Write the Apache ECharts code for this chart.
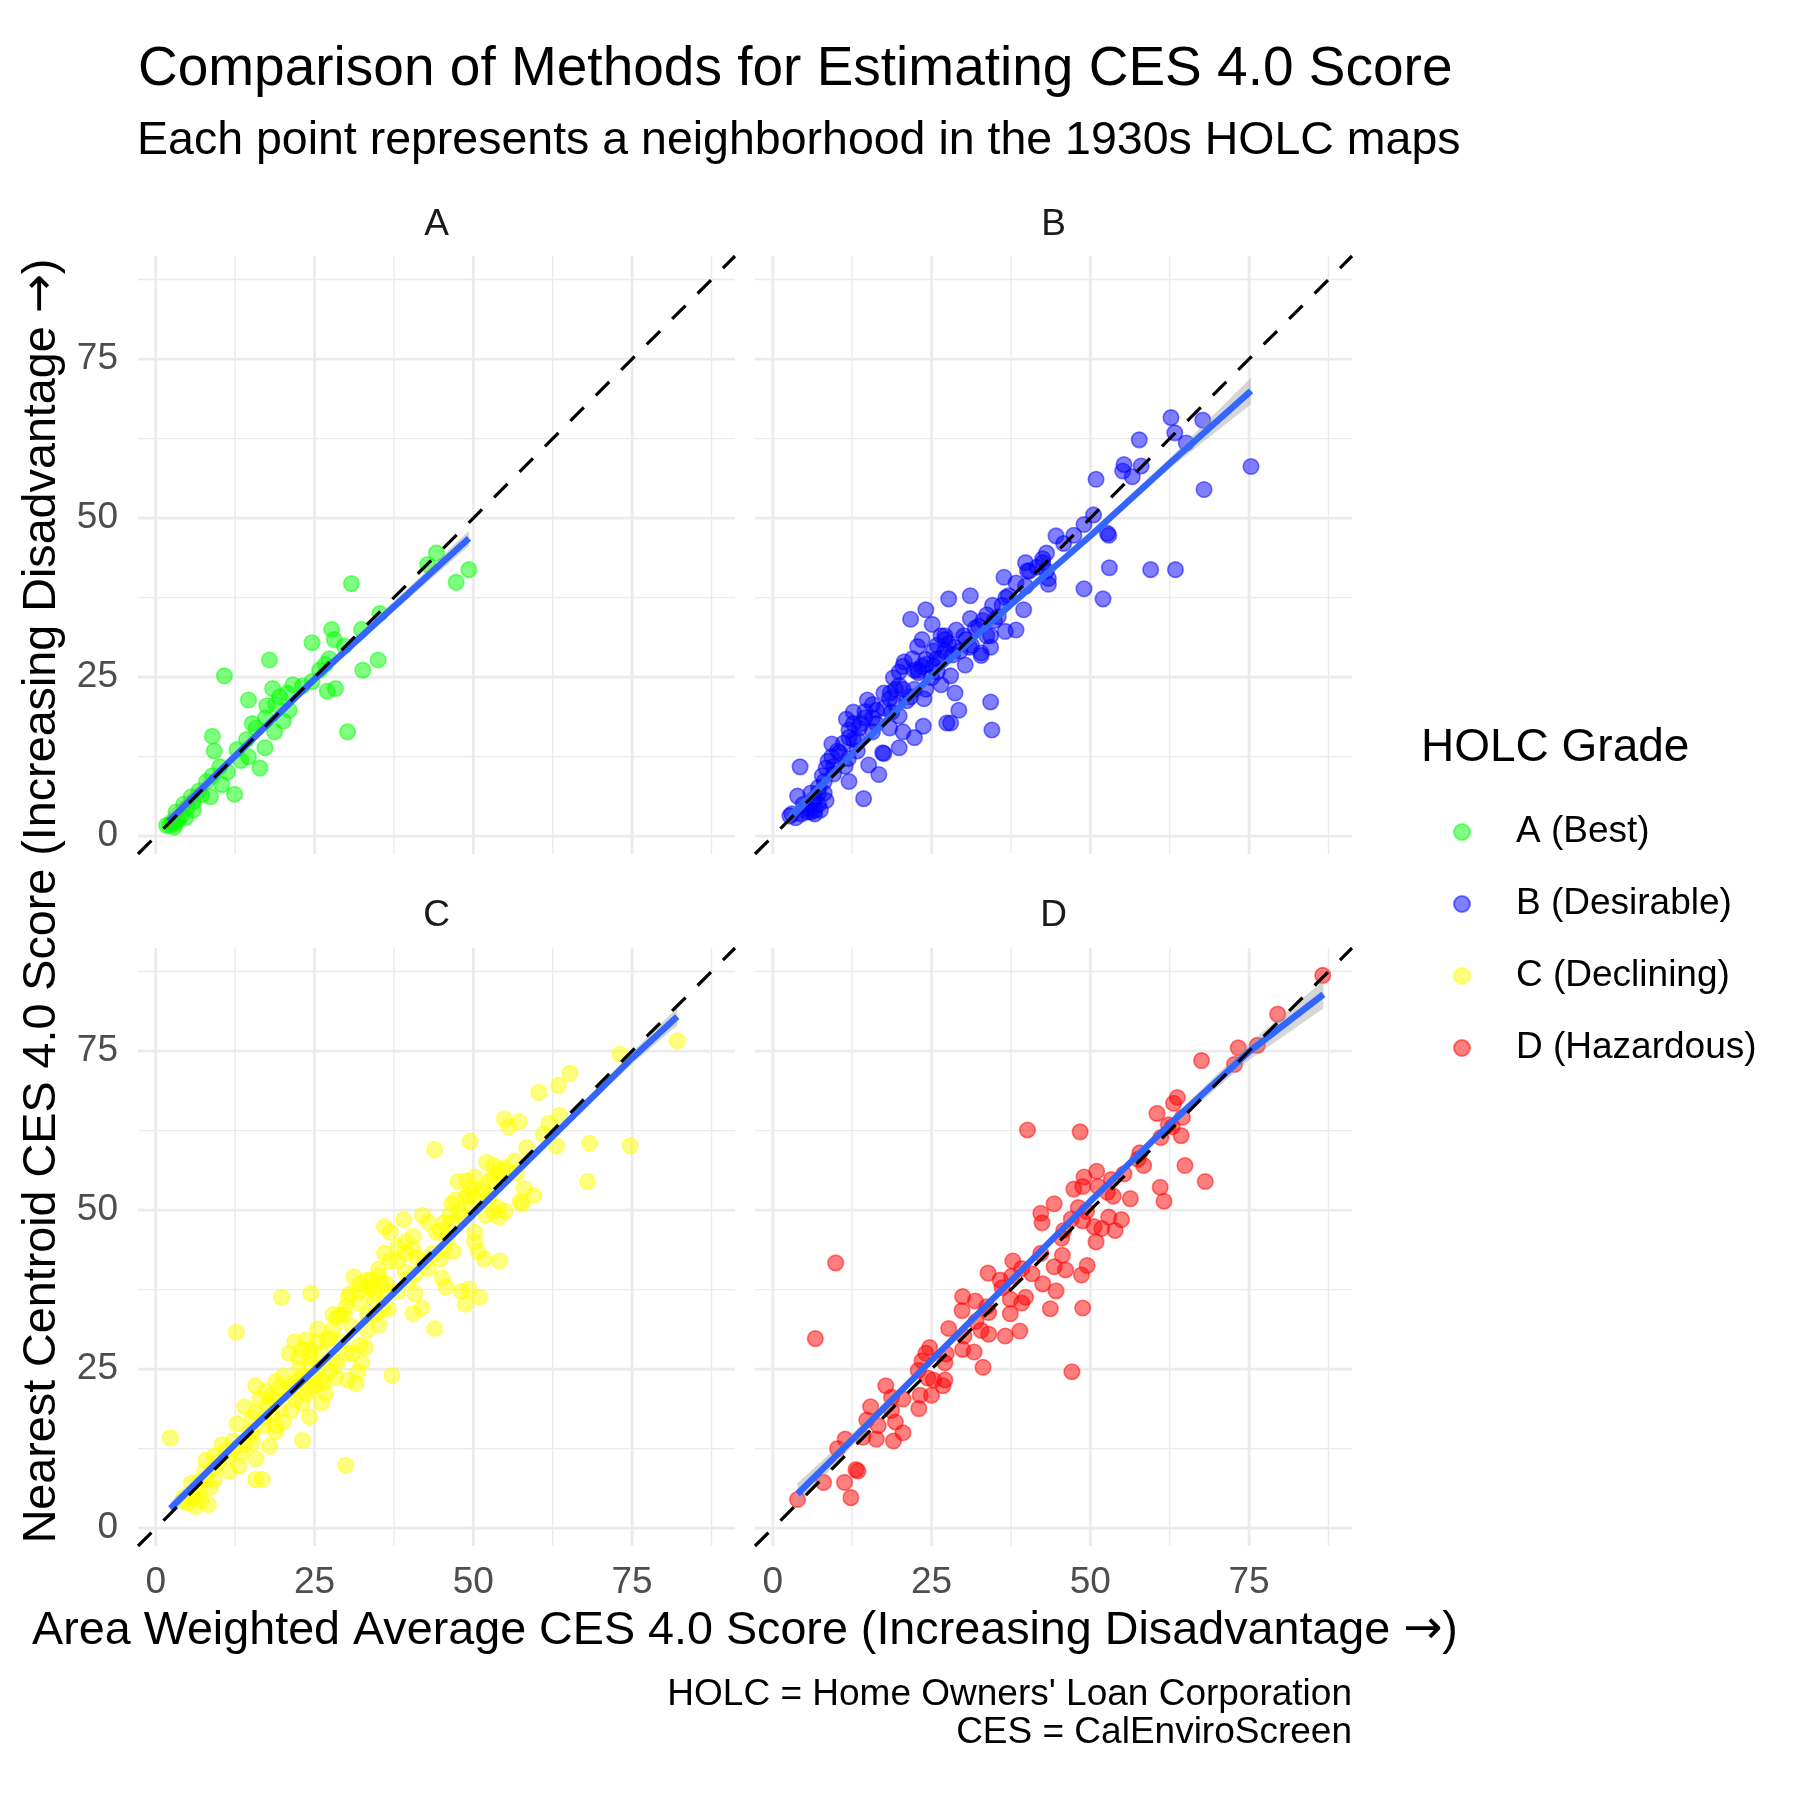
<!DOCTYPE html>
<html><head><meta charset="utf-8">
<script src="https://cdn.jsdelivr.net/npm/echarts@6/dist/echarts.min.js"></script>
<style>html,body{margin:0;padding:0;background:#fff}#c{width:1800px;height:1800px}</style>
</head><body><div id="c"></div>
<script>
const gradeNames = ['A (Best)', 'B (Desirable)', 'C (Declining)', 'D (Hazardous)'];
const panelLabels = ['A', 'B', 'C', 'D'];
const gradeColors = ['0,255,0', '0,0,255', '255,255,0', '255,0,0'];
const tickValues = [0, 25, 50, 75];
const minorValues = [12.5, 37.5, 62.5, 87.5];
const axisMin = -2.8, axisMax = 91.2;

const titleText = 'Comparison of Methods for Estimating CES 4.0 Score';
const subtitleText = 'Each point represents a neighborhood in the 1930s HOLC maps';
const xTitleMain = 'Area Weighted Average CES 4.0 Score (Increasing Disadvantage ';
const yTitleMain = 'Nearest Centroid CES 4.0 Score (Increasing Disadvantage ';
const arrowText = '\u2192';
const captionLines = ["HOLC = Home Owners' Loan Corporation", 'CES = CalEnviroScreen'];
const legendTitle = 'HOLC Grade';

const pointsA = [[44.2,44.5],[42.8,42.7],[49.3,41.9],[47.3,39.9],[30.8,39.7],[35.3,35.0],[32.4,32.5],[27.7,32.5],[28.1,30.9],[24.6,30.4],[29.7,29.9],[17.9,27.7],[35.0,27.7],[32.6,26.1],[27.3,27.9],[26.7,27.0],[10.8,25.2],[24.6,24.3],[27.0,22.8],[28.3,23.2],[18.4,23.2],[21.6,23.8],[14.6,21.4],[19.5,21.9],[20.7,22.5],[17.5,20.5],[18.9,20.7],[21.0,19.8],[20.1,18.1],[18.7,16.4],[30.2,16.4],[17.3,18.6],[15.8,17.0],[8.9,15.7],[9.2,13.4],[12.8,13.6],[17.2,13.9],[14.6,12.5],[13.4,11.9],[16.4,10.7],[10.1,10.9],[11.3,10.1],[8.9,9.5],[8.0,8.6],[10.4,8.1],[12.4,6.6],[8.6,6.2],[6.8,7.1],[5.6,6.2],[5.9,4.1],[4.4,5.0],[4.7,2.9],[3.2,3.8],[2.6,2.3],[1.7,1.7],[2.9,1.4],[15.2,17.7],[14.3,15.2],[23.1,23.6],[25.8,26.1],[3.5,2.5],[4.0,3.2],[6.0,5.5],[7.2,6.5],[5.0,4.5],[2.2,1.8],[3.0,2.0]];

const pointsB = [[62.7,65.8],[67.7,65.4],[63.3,63.4],[65.1,61.8],[57.7,62.3],[55.3,58.4],[55.1,57.4],[56.6,56.5],[58.0,58.2],[50.9,56.1],[75.3,58.1],[67.9,54.5],[50.5,50.5],[49.0,49.0],[52.7,47.6],[52.9,47.3],[44.6,47.2],[47.4,47.3],[45.8,46.0],[43.1,44.5],[39.8,43.0],[42.5,43.0],[40.4,41.7],[43.4,39.6],[43.4,40.5],[53.0,42.2],[59.5,41.9],[63.4,41.9],[49.0,38.9],[52.0,37.3],[36.4,40.7],[38.3,39.8],[37.1,37.8],[34.6,36.3],[27.7,37.3],[31.1,37.8],[24.1,35.6],[21.7,34.1],[25.1,33.3],[31.1,34.2],[33.7,34.8],[39.5,35.6],[36.1,36.3],[38.3,32.4],[36.6,32.2],[28.9,32.4],[32.4,33.0],[34.3,31.5],[27.1,31.5],[27.7,30.3],[25.9,30.0],[30.4,30.9],[22.8,29.8],[32.8,28.8],[32.8,28.4],[24.1,27.8],[26.5,28.0],[30.3,26.9],[20.7,27.4],[19.9,25.8],[22.9,25.7],[25.9,25.8],[28.0,25.2],[26.5,23.8],[28.7,22.5],[24.1,23.1],[34.3,21.1],[29.3,19.8],[34.5,16.7],[27.4,17.8],[28.0,17.8],[23.7,17.3],[22.3,15.5],[19.9,18.9],[19.9,13.9],[17.5,13.0],[17.3,13.1],[14.9,21.4],[14.5,19.6],[18.5,22.5],[19.3,20.7],[21.7,21.9],[23.8,21.6],[11.6,18.4],[15.1,11.2],[16.7,9.7],[15.7,18.6],[12.0,16.7],[12.7,15.2],[15.7,16.4],[9.3,14.5],[10.5,13.1],[11.9,12.2],[13.3,13.4],[8.7,11.8],[11.4,11.0],[7.8,9.5],[12.0,8.6],[4.3,10.9],[7.2,7.7],[9.6,9.8],[14.3,5.9],[3.9,6.3],[6.0,6.8],[8.4,5.6],[4.8,5.0],[3.0,3.5],[5.4,3.8],[6.6,4.1],[2.7,3.2],[7.2,5.0],[6.6,5.9],[6.0,3.8],[8.1,6.8],[9.6,11.0],[13.3,15.2],[17.5,20.1],[18.7,19.5],[18.4,17.0],[20.5,16.4],[21.1,21.3],[22.3,23.1],[25.0,24.9],[25.3,26.7],[28.3,28.5],[29.5,29.1],[31.0,29.7],[33.7,31.5],[34.9,33.9],[35.5,34.5],[39.8,39.3],[41.6,42.3],[12.7,19.5],[13.9,17.7],[16.3,17.7],[23.5,26.7],[22.3,26.1],[25.3,29.1],[27.1,30.9],[19.9,23.7],[20.5,23.1],
  [17.5,22.5],[18.4,21.6],[19.3,23.1],[14.5,18.6],[13.6,17.0],[12.0,15.5],[11.1,14.6],[10.2,13.4],[9.3,12.5],[8.4,10.7],[8.1,8.6],[7.2,6.8],[6.3,5.6],[5.4,4.4],[4.5,3.5],[3.6,2.9],[6.6,3.5],[7.5,4.1],[22.9,26.1],[24.1,27.0],[25.9,27.9],[27.1,29.1],[28.6,29.7],[30.1,31.5],[31.9,32.7],[33.1,33.9],[36.7,37.5],[34.3,29.7],[23.5,30.9],[20.5,26.7],[22.0,27.9],[19.0,24.9],[15.7,20.7],[16.3,19.8],[12.7,17.7],[31.3,30.0],[26.5,31.5],[42.5,43.6],[43.1,41.7],[40.1,41.7]];

const pointsC = [[82.1,76.6],[73.1,74.5],[65.2,71.5],[63.4,69.6],[60.3,68.5],[54.9,64.3],[57.2,63.9],[55.6,63.1],[61.9,63.6],[63.6,64.9],[61.0,61.9],[49.5,60.8],[43.9,59.5],[68.3,60.5],[74.7,60.1],[63.1,60.1],[58.4,59.8],[68.0,54.5],[52.1,57.5],[56.5,57.7],[56.8,55.8],[55.0,56.7],[53.8,55.8],[52.6,54.6],[58.0,53.4],[59.5,52.3],[47.6,54.5],[50.2,55.2],[49.6,53.4],[49.0,52.2],[57.4,51.3],[57.7,51.0],[53.8,50.4],[52.0,49.2],[54.1,48.9],[46.6,51.0],[46.6,48.0],[50.2,46.5],[50.2,45.0],[50.8,43.5],[51.7,42.3],[54.1,42.0],[36.0,47.4],[39.0,48.5],[42.0,49.2],[42.9,48.1],[44.2,46.5],[36.9,46.5],[40.5,45.9],[39.3,45.0],[38.1,44.1],[45.4,43.8],[46.9,43.5],[36.0,43.2],[41.1,42.6],[44.8,42.3],[42.9,40.8],[40.8,39.9],[45.1,39.3],[45.7,37.9],[48.1,37.2],[48.7,35.2],[49.3,37.6],[51.0,36.3],[31.2,39.5],[35.1,40.7],[33.9,39.0],[33.3,37.8],[35.7,38.4],[36.6,37.2],[40.8,36.9],[40.5,33.7],[41.9,34.6],[43.9,31.4],[19.8,36.3],[24.4,36.9],[30.3,36.3],[30.0,34.8],[32.1,35.4],[34.5,36.0],[36.6,34.5],[33.3,33.6],[28.5,33.0],[35.1,32.0],[33.3,31.1],[25.5,31.3],[27.9,31.4],[30.9,31.7],[27.0,29.6],[29.1,29.3],[32.1,28.7],[33.0,28.4],[30.0,27.5],[32.4,26.0],[31.8,24.5],[37.2,24.0],[28.3,23.6],[30.3,23.3],[31.5,22.7],[23.7,29.6],[21.9,29.3],[21.0,27.5],[23.1,28.1],[24.3,27.2],[26.1,27.5],[27.9,26.3],[25.5,25.1],[20.1,23.9],[22.5,23.3],[18.9,23.0],[26.4,23.0],[17.3,21.5],[15.7,22.4],[20.7,21.2],[23.7,21.2],[26.7,21.2],[26.1,19.7],[23.1,19.7],[19.5,18.8],[17.6,19.4],[14.0,19.1],[15.8,18.2],[24.2,17.5],[12.7,30.8],[12.8,16.4],[20.1,16.7],[18.9,15.2],[17.0,16.1],[14.9,15.2],[23.1,13.8],[17.9,12.9],[15.2,13.4],[10.4,13.1],[13.4,11.9],[15.8,10.9],[13.1,9.8],[11.6,11.3],[9.8,10.4],[7.9,10.7],[7.7,8.9],[9.2,7.7],[6.8,7.3],[5.6,7.1],[2.3,14.2],[29.9,9.9],[15.7,7.7],[16.8,7.7],[4.4,4.9],[6.2,3.4],[8.3,3.7],[7.1,4.3],[5.0,4.0],[6.2,5.2],[8.6,6.4],[11.6,8.9],[18.9,16.1],[21.3,18.5],[21.9,20.3],[24.9,22.3],[27.3,24.5],[28.5,25.7],[30.9,27.5],[34.5,33.6],[35.7,34.5],[38.1,37.2],[39.9,39.0],[42.3,42.0],[43.6,43.2],[45.9,45.6],[48.3,49.2],[49.6,50.4],[51.4,52.8],[52.6,52.2],[53.2,55.2],[47.2,51.6],[39.3,43.2],[36.9,42.0],[32.1,37.2],[29.7,33.6],[24.3,25.7],[22.5,25.1],[21.3,22.7],[18.3,20.3],[15.2,17.3],[12.2,13.7],[9.2,11.3],
  [54.4,56.4],[53.2,57.0],[51.4,53.4],[50.2,51.9],[53.2,49.8],[55.0,49.8],[47.8,49.8],[46.3,49.2],[49.0,54.6],[33.9,37.8],[35.1,39.6],[33.3,39.0],[32.1,38.4],[30.6,36.9],[34.5,36.9],[36.3,38.4],[29.1,33.6],[27.9,33.6],[27.3,29.9],[25.5,29.3],[24.3,28.1],[22.5,26.9],[23.1,23.9],[24.9,23.9],[25.8,22.7],[24.3,21.8],[21.9,22.1],[19.5,22.1],[18.3,20.9],[16.4,20.3],[17.0,17.3],[18.3,17.9],[15.2,14.9],[14.0,13.1],[12.2,12.5],[11.0,12.2],[9.2,9.5],[8.0,7.7],[6.8,5.8],[5.6,4.6],[4.4,4.3],[45.4,48.0],[49.0,52.2],[40.5,43.8],[38.1,42.0],[44.8,46.8],[39.3,40.2]];

const pointsD = [[86.6,86.9],[79.5,80.8],[73.3,75.5],[76.3,75.9],[72.7,72.9],[67.5,73.5],[63.7,67.7],[63.1,66.8],[60.5,65.2],[64.5,64.6],[62.3,63.4],[62.9,63.1],[64.3,61.7],[61.1,61.4],[40.1,62.6],[48.4,62.3],[57.8,59.0],[58.4,57.0],[57.5,58.0],[64.9,57.0],[68.1,54.5],[61.0,53.6],[61.6,51.4],[55.3,55.7],[51.0,56.1],[49.0,55.2],[53.3,54.8],[51.2,53.7],[47.4,53.3],[48.8,53.7],[52.7,52.8],[53.6,52.2],[56.3,51.8],[44.3,51.0],[42.2,49.5],[42.4,48.0],[48.1,50.4],[49.4,49.8],[48.8,48.3],[47.0,48.6],[52.9,48.9],[54.9,48.5],[50.6,47.4],[51.8,47.1],[53.9,46.8],[45.8,46.8],[45.5,45.6],[50.9,45.0],[42.2,43.2],[45.6,42.9],[44.3,41.1],[46.1,40.6],[49.5,41.3],[48.6,39.8],[44.6,37.3],[43.7,34.5],[48.8,34.6],[47.1,24.6],[37.8,42.0],[39.2,40.8],[33.9,40.1],[35.8,39.0],[37.6,39.6],[40.8,40.0],[42.5,38.4],[36.1,37.8],[39.8,36.3],[37.4,36.0],[39.2,35.4],[29.9,36.4],[31.9,35.7],[33.7,34.8],[29.8,34.2],[34.0,33.9],[37.4,33.7],[32.0,32.5],[27.7,31.4],[30.1,30.2],[32.8,31.1],[34.0,30.5],[36.6,30.2],[38.9,31.0],[29.9,28.1],[31.7,27.7],[33.1,25.3],[24.7,28.4],[24.1,27.5],[27.3,27.4],[23.5,26.3],[27.1,26.0],[22.9,24.8],[24.4,23.6],[25.3,23.3],[27.1,23.3],[26.8,22.4],[25.0,20.9],[23.2,20.9],[23.0,18.8],[17.8,22.4],[18.7,20.6],[20.5,20.3],[15.4,19.1],[18.7,18.5],[14.8,17.0],[19.3,16.7],[16.6,16.1],[20.5,15.0],[16.3,14.0],[19.0,13.7],[14.2,14.3],[11.4,14.0],[10.2,12.5],[13.1,9.2],[13.4,9.0],[8.0,7.2],[11.3,7.2],[12.3,4.8],[3.9,4.5],[6.7,29.8],[9.9,41.7]];

const smoothA = [[2.0,2.3],[12.5,12.6],[25,24.7],[37.5,36.1],[49.3,46.8]];
const smoothB = [[2.4,2.6],[12.5,12.9],[25,25.2],[37.5,36.4],[50,47.2],[62.5,58.6],[75.3,70.0]];
const smoothC = [[2.3,3.1],[12.5,13.2],[25,24.9],[37.5,37.0],[50,49.3],[62.5,61.6],[75,73.9],[82.1,80.4]];
const smoothD = [[3.9,5.4],[12.5,13.9],[25,26.4],[37.5,38.9],[50,51.4],[62.5,63.5],[75,74.9],[86.7,83.9]];

// [x, lower, upper]
const bandA = [[2.0,0.9,3.7],[12.5,11.9,13.3],[25,24.1,25.3],[37.5,35.3,36.9],[49.3,45.6,48.0]];
const bandB = [[2.4,1.6,3.6],[12.5,12.4,13.4],[25,24.8,25.6],[37.5,36.0,36.8],[50,46.7,47.7],[62.5,57.8,59.4],[75.3,67.9,72.1]];
const bandC = [[2.3,2.1,4.1],[12.5,12.7,13.7],[25,24.5,25.3],[37.5,36.6,37.4],[50,48.9,49.7],[62.5,61.1,62.1],[75,73.0,74.8],[82.1,79.0,81.8]];
const bandD = [[3.9,3.7,7.1],[12.5,12.9,14.9],[25,25.8,27.0],[37.5,38.4,39.4],[50,50.9,51.9],[62.5,62.8,64.2],[75,73.6,76.2],[86.7,81.7,86.1]];

const allPoints = [pointsA, pointsB, pointsC, pointsD];
const allSmooth = [smoothA, smoothB, smoothC, smoothD];
const allBands = [bandA, bandB, bandC, bandD];

const FONT = "'Liberation Sans', Arial, 'DejaVu Sans', sans-serif";
const panelBoxes = [
  {left: 138, top: 256}, {left: 755, top: 256},
  {left: 138, top: 948}, {left: 755, top: 948}
];
const PW = 597, PH = 598;

const grids = [], xAxes = [], yAxes = [], series = [];
panelBoxes.forEach((b, i) => {
  grids.push({left: b.left, top: b.top, width: PW, height: PH, containLabel: false});
  const showX = i >= 2, showY = i % 2 === 0;
  xAxes.push({type: 'value', gridIndex: i, min: axisMin, max: axisMax,
    axisLine: {show: false}, axisTick: {show: false}, splitLine: {show: false},
    axisLabel: {show: showX, customValues: tickValues, fontSize: 37, color: '#4D4D4D', fontFamily: FONT, margin: 18}});
  yAxes.push({type: 'value', gridIndex: i, min: axisMin, max: axisMax,
    axisLine: {show: false}, axisTick: {show: false}, splitLine: {show: false},
    axisLabel: {show: showY, customValues: tickValues, fontSize: 37, color: '#4D4D4D', fontFamily: FONT, margin: 20}});

  // grid lines
  series.push({type: 'custom', xAxisIndex: i, yAxisIndex: i, silent: true, z: 0, data: [[0, 0]],
    renderItem: (params, api) => {
      const children = [];
      const add = (v, w) => {
        const a = api.coord([v, axisMin]), c = api.coord([v, axisMax]);
        children.push({type: 'line', shape: {x1: a[0], y1: a[1], x2: c[0], y2: c[1]}, style: {stroke: '#EBEBEB', lineWidth: w}});
        const d = api.coord([axisMin, v]), e = api.coord([axisMax, v]);
        children.push({type: 'line', shape: {x1: d[0], y1: d[1], x2: e[0], y2: e[1]}, style: {stroke: '#EBEBEB', lineWidth: w}});
      };
      minorValues.forEach(v => add(v, 1.4));
      tickValues.forEach(v => add(v, 2.8));
      return {type: 'group', children};
    }});

  // points
  series.push({type: 'scatter', name: gradeNames[i], xAxisIndex: i, yAxisIndex: i, z: 2,
    data: allPoints[i], symbol: 'circle', symbolSize: 15.5,
    itemStyle: {color: 'rgba(' + gradeColors[i] + ',0.5)', borderColor: 'rgba(' + gradeColors[i] + ',0.5)', borderWidth: 1.6, opacity: 1},
    emphasis: {disabled: true}});

  // confidence band
  const band = allBands[i];
  series.push({type: 'custom', xAxisIndex: i, yAxisIndex: i, silent: true, z: 3, data: [[0, 0]],
    renderItem: (params, api) => {
      const upper = band.map(b => api.coord([b[0], b[2]]));
      const lower = band.slice().reverse().map(b => api.coord([b[0], b[1]]));
      return {type: 'polygon', shape: {points: upper.concat(lower)}, style: {fill: 'rgba(153,153,153,0.4)'}};
    }});

  // smooth line
  series.push({type: 'line', xAxisIndex: i, yAxisIndex: i, z: 4, data: allSmooth[i], smooth: false,
    showSymbol: false, silent: true, lineStyle: {color: '#3366FF', width: 6.5, cap: 'butt', join: 'round'}});

  // identity line
  series.push({type: 'line', xAxisIndex: i, yAxisIndex: i, z: 5, data: [[axisMin, axisMin], [axisMax, axisMax]],
    showSymbol: false, silent: true, lineStyle: {color: '#000', width: 3.2, type: [19, 17]}});
});

const txt = (text, x, y, size, align, extra) => Object.assign({
  type: 'text', x, y, silent: true,
  style: {text, fontSize: size, fontFamily: FONT, fill: '#000', align, textAlign: align, verticalAlign: 'middle', textVerticalAlign: 'middle'}
}, extra || {});

const arrowRich = {ar: {fontFamily: "'DejaVu Sans', sans-serif", fontSize: 46.7, fill: '#000', color: '#000'}};
const xTitleG = txt(xTitleMain + '{ar|' + arrowText + '})', 745, 1631, 46.7, 'center');
xTitleG.style.rich = arrowRich;
const yTitleG = txt(yTitleMain + '{ar|' + arrowText + '})', 42, 901, 46.7, 'center', {rotation: Math.PI / 2});
yTitleG.style.rich = arrowRich;

const graphics = [
  txt(titleText, 138, 70, 55, 'left'),
  txt(subtitleText, 137, 141, 46.5, 'left'),
  txt(panelLabels[0], 436.5, 225, 37, 'center'),
  txt(panelLabels[1], 1053.5, 225, 37, 'center'),
  txt(panelLabels[2], 436.5, 916, 37, 'center'),
  txt(panelLabels[3], 1053.5, 916, 37, 'center'),
  xTitleG,
  yTitleG,
  txt(captionLines[0], 1352, 1695, 37, 'right'),
  txt(captionLines[1], 1352, 1733, 37, 'right'),
  txt(legendTitle, 1421, 748, 46, 'left')
];
graphics.forEach((g, k) => { if (k >= 2 && k <= 5) g.style.fill = '#1A1A1A'; });

const chart = echarts.init(document.getElementById('c'), null, {renderer: 'canvas'});
chart.setOption({
  animation: false,
  backgroundColor: '#ffffff',
  grid: grids, xAxis: xAxes, yAxis: yAxes, series,
  legend: {data: gradeNames, orient: 'vertical', left: 1448, top: 807, itemWidth: 16, itemHeight: 16, itemGap: 32,
    icon: 'circle', selectedMode: false,
    textStyle: {fontSize: 37, fontFamily: FONT, color: '#000', lineHeight: 40, padding: [0, 0, 0, 41]}},
  graphic: graphics
});
</script></body></html>
